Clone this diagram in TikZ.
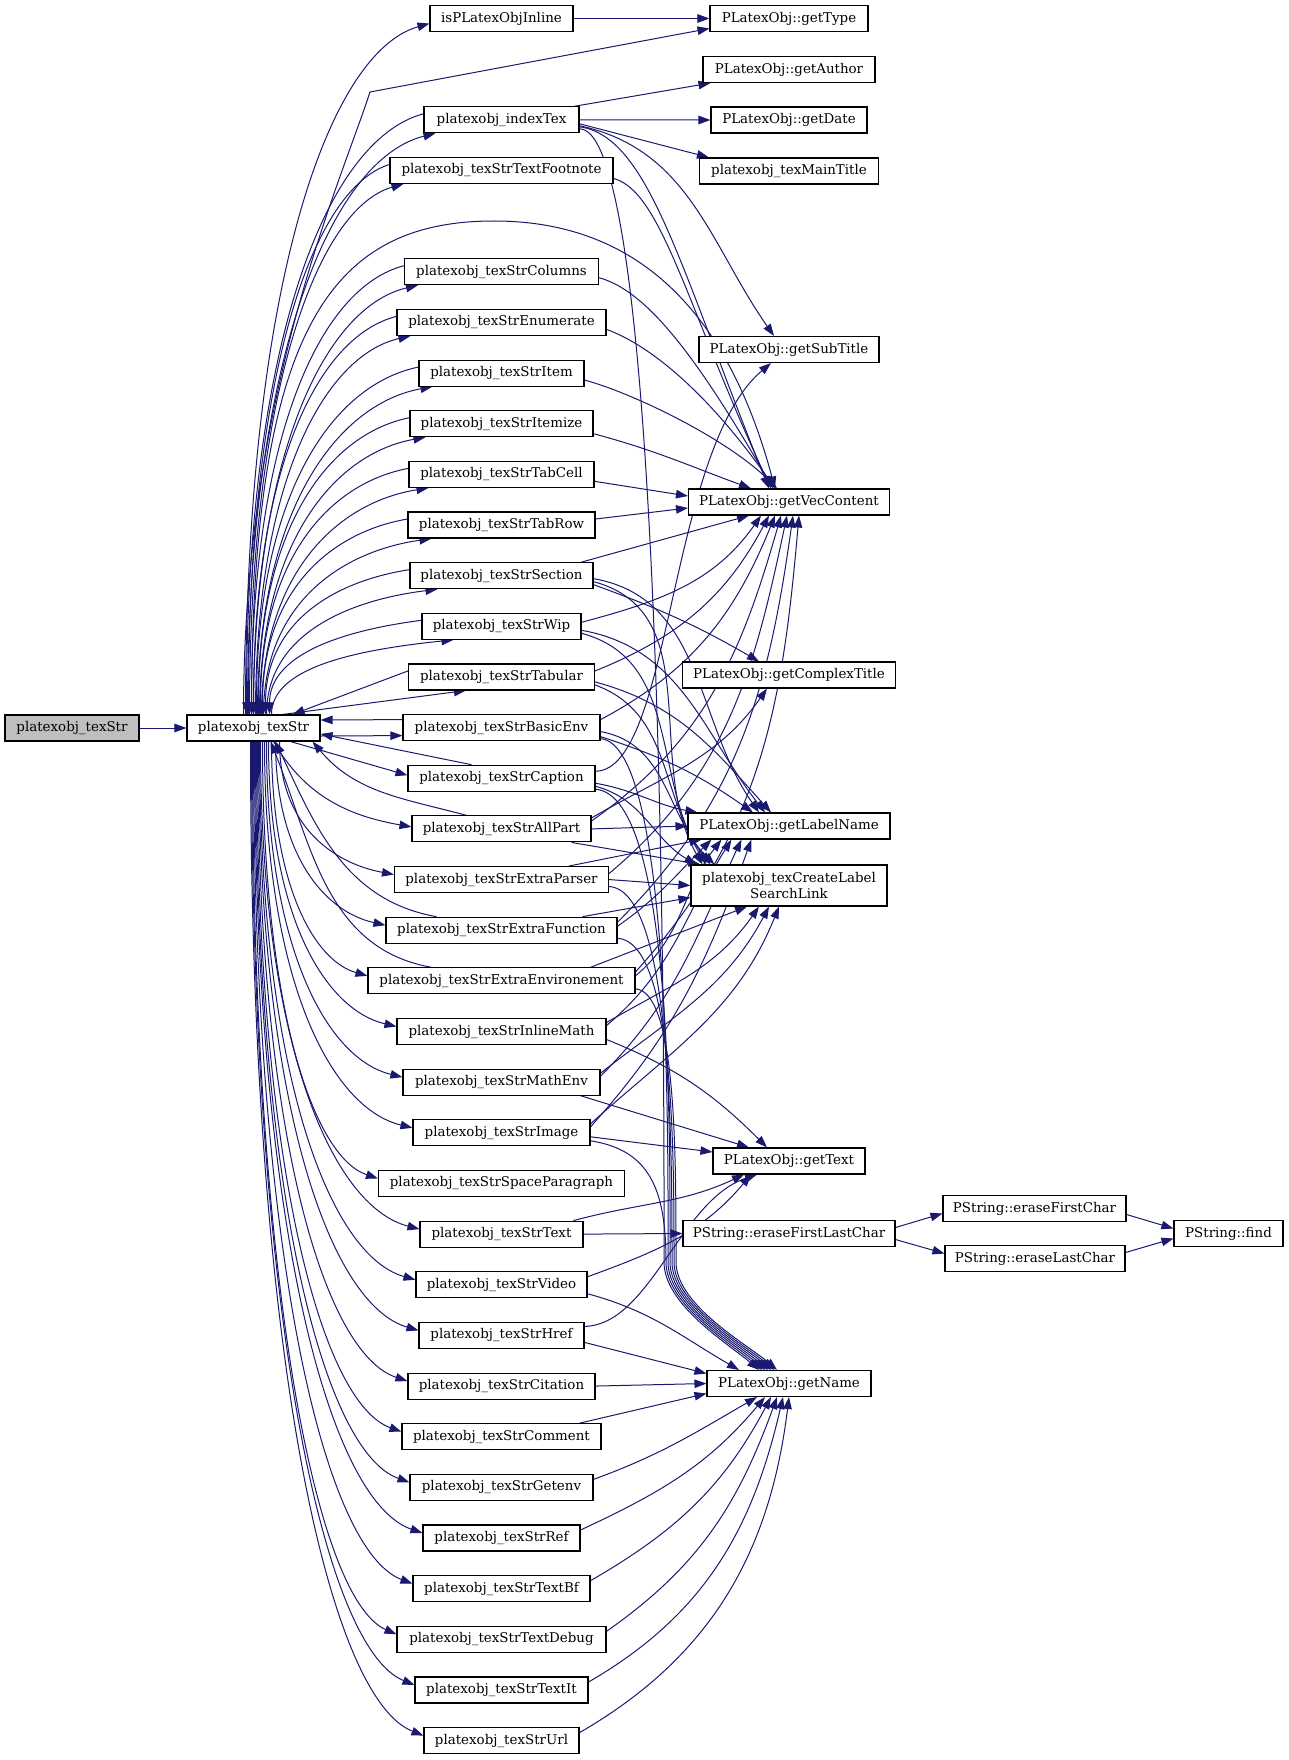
\documentclass[tikz,border=0pt]{standalone}
\usepackage{fontspec}
\setmainfont{DejaVu Serif}
\usetikzlibrary{arrows.meta,calc}
\pgfdeclarelayer{bg}
\pgfsetlayers{bg,main}
\definecolor{edgec}{HTML}{191970}
\definecolor{rootfill}{HTML}{BFBFBF}
% forward edge going up from texStr to a node
\newcommand\fup[2]{\draw[edge] let \p1=#1, \p2=#2, \n1={0.62*(\y2-\y1)}, \n2={0.55*(\x2-\x1)}, \n3={0.03*(\y2-\y1)+8}, \n4={180+atan2(\n3,\n2)}, \n5={veclen(\n2,\n3)} in #1 to[out=90, in=\n4, out distance=\n1, in distance=\n5] #2;}
% forward edge going down from texStr to a node
\newcommand\fdown[2]{\draw[edge] let \p1=#1, \p2=#2, \n1={0.62*(\y1-\y2)}, \n2={0.55*(\x2-\x1)}, \n3={0.03*(\y1-\y2)+8}, \n4={180-atan2(\n3,\n2)}, \n5={veclen(\n2,\n3)} in #1 to[out=-90, in=\n4, out distance=\n1, in distance=\n5] #2;}
% back edge from a node above down to texStr
\newcommand\bup[2]{\draw[edge] let \p1=#1, \p2=#2, \n1={0.62*(\y1-\y2)}, \n2={0.55*(\x1-\x2)}, \n3={0.03*(\y1-\y2)+8}, \n4={180+atan2(\n3,\n2)}, \n5={veclen(\n2,\n3)} in #1 to[out=\n4, in=90, out distance=\n5, in distance=\n1] #2;}
\begin{document}
\begin{tikzpicture}[x=1pt,y=1pt,
  box/.style={draw=black, line width=1.1pt, fill=white, minimum height=26pt, inner xsep=2pt, inner ysep=0pt, font=\fontsize{13.4}{15.4}\selectfont},
  edge/.style={draw=edgec, line width=1pt, -{Triangle[length=12pt,width=8.5pt]}}]
\useasboundingbox (0,0) rectangle (1288,-1760);
% left nodes
\node[box, fill=rootfill, minimum width=134pt] (root) at (72,-728) {platexobj\_texStr};
\node[box, minimum width=133pt] (ts) at (253.5,-728) {platexobj\_texStr};
% middle column
\foreach \nd/\yy/\ww/\lbl in {
 inl/18.5/143/isPLatexObjInline,
 idx/119.8/155/platexobj\_indexTex,
 fn/170.45/223/platexobj\_texStrTextFootnote,
 col/271.75/194/platexobj\_texStrColumns,
 enu/322.4/209/platexobj\_texStrEnumerate,
 itm/373.05/165/platexobj\_texStrItem,
 itz/423.7/183/platexobj\_texStrItemize,
 tc/474.35/185/platexobj\_texStrTabCell,
 tr/525.0/187/platexobj\_texStrTabRow,
 sec/575.65/183/platexobj\_texStrSection,
 wip/626.3/159/platexobj\_texStrWip,
 tab/676.95/186/platexobj\_texStrTabular,
 be/727.6/197/platexobj\_texStrBasicEnv,
 cap/778.25/187/platexobj\_texStrCaption,
 ap/828.9/179/platexobj\_texStrAllPart,
 xp/879.55/214/platexobj\_texStrExtraParser,
 xf/930.2/231/platexobj\_texStrExtraFunction,
 xe/980.85/267/platexobj\_texStrExtraEnvironement,
 im/1031.5/209/platexobj\_texStrInlineMath,
 me/1082.15/197/platexobj\_texStrMathEnv,
 img/1132.8/177/platexobj\_texStrImage,
 sp/1183.45/246/platexobj\_texStrSpaceParagraph,
 txt/1234.1/163/platexobj\_texStrText,
 vid/1284.75/171/platexobj\_texStrVideo,
 href/1335.4/165/platexobj\_texStrHref,
 cit/1386.05/187/platexobj\_texStrCitation,
 com/1436.7/199/platexobj\_texStrComment,
 gen/1487.35/183/platexobj\_texStrGetenv,
 ref/1538.0/157/platexobj\_texStrRef,
 tbf/1588.65/177/platexobj\_texStrTextBf,
 tdb/1639.3/209/platexobj\_texStrTextDebug,
 tit/1689.95/173/platexobj\_texStrTextIt,
 url/1740.6/155/platexobj\_texStrUrl}
 {\node[box, minimum width=\ww pt] (\nd) at (501.5,-\yy) {\lbl};}
% right column
\node[box, minimum width=158pt] (gT) at (789,-18.5) {PLatexObj::getType};
\node[box, minimum width=172pt] (gA) at (789,-69.5) {PLatexObj::getAuthor};
\node[box, minimum width=156pt] (gD) at (789,-120) {PLatexObj::getDate};
\node[box, minimum width=179pt] (tmt) at (789,-171) {platexobj\_texMainTitle};
\node[box, minimum width=180pt] (gST) at (789,-349.5) {PLatexObj::getSubTitle};
\node[box, minimum width=201pt] (vc) at (789,-502) {PLatexObj::getVecContent};
\node[box, minimum width=213pt] (gCT) at (789,-675) {PLatexObj::getComplexTitle};
\node[box, minimum width=202pt] (ln) at (789,-826) {PLatexObj::getLabelName};
\node[box, minimum width=196pt, minimum height=41pt, align=center] (cl) at (789,-885.5) {platexobj\_texCreateLabel\\SearchLink};
\node[box, minimum width=152pt] (gtx) at (789,-1161) {PLatexObj::getText};
\node[box, minimum width=212pt] (efl) at (789,-1233.5) {PString::eraseFirstLastChar};
\node[box, minimum width=164pt] (nm) at (789,-1383.5) {PLatexObj::getName};
\node[box, minimum width=183pt] (efc) at (1034.5,-1208.5) {PString::eraseFirstChar};
\node[box, minimum width=180pt] (elc) at (1035,-1258.5) {PString::eraseLastChar};
\node[box, minimum width=109pt] (fnd) at (1228.5,-1233.5) {PString::find};
\coordinate (gtk) at (370,-92);
\coordinate (vcpk) at (494,-221);

\begin{pgfonlayer}{bg}
\draw[edge] (root) -- (ts);
% texStr to upper nodes
\fup{([xshift=-8]ts.north)}{([yshift=-5]inl.west)}
\foreach \nd/\s/\e in {idx/-6/12, fn/-4/14, col/0/14, enu/2/14, itm/4/14, itz/6/16, tc/8/20, tr/10/24, sec/13/28, wip/18/32}
  {\fup{([xshift=\s]ts.north)}{([xshift=\e]\nd.south west)}}
\foreach \nd/\e in {idx/-7, fn/-5, col/-2, enu/0, itm/3, itz/5, tc/7, tr/9, sec/12, wip/16}
  {\bup{([yshift=6]\nd.west)}{([xshift=\e]ts.north)}}
\draw[edge] ([xshift=-38]ts.north east) -- ([xshift=58]tab.south west);
\draw[edge] ([yshift=6]tab.west) -- ([xshift=-28]ts.north east);
\draw[edge] ([xshift=-10]ts.north) to[out=90,in=-108,out distance=320pt,in distance=100pt] (gtk) -- ([yshift=-10]gT.west);
\draw[edge] ([xshift=-2]ts.north) to[out=90,in=180,out distance=385pt,in distance=164pt] (vcpk) to[out=0,in=105,out distance=130pt,in distance=200pt] ([xshift=-14]vc.north);
% texStr to lower nodes
\draw[edge] ([yshift=-8]ts.east) -- ([yshift=-8]be.west);
\draw[edge] ([yshift=8]be.west) -- ([yshift=8]ts.east);
\draw[edge] ([xshift=-30]ts.south east) -- ([yshift=3]cap.west);
\draw[edge] ([xshift=-30]cap.north) -- ([yshift=-6]ts.east);
\draw[edge] ([xshift=20]ts.south) to[out=-60,in=170] ([yshift=2]ap.west);
\draw[edge] ([xshift=-35]ap.north) to[out=165,in=-50] ([xshift=-8]ts.south east);
\draw[edge] ([xshift=-65]xf.north) to[out=170,in=-65] ([xshift=22]ts.south);
\draw[edge] ([xshift=-70]xe.north) to[out=170,in=-68] ([xshift=17]ts.south);
\foreach \nd/\s in {xp/26, xf/22, xe/18, im/15, me/13, img/11, sp/9, txt/7, vid/6, href/5, cit/4, com/3, gen/2, ref/1, tbf/0, tdb/-1, tit/-2, url/-3}
  {\fdown{([xshift=\s]ts.south)}{([yshift=5]\nd.west)}}
% right side
\draw[edge] (inl) -- (gT);
\draw[edge] ([xshift=-5]idx.north east) -- ([xshift=8]gA.south west);
\draw[edge] (idx.east) -- (gD.west);
\draw[edge] ([yshift=-4]idx.east) -- ([xshift=10]tmt.north west);
\draw[edge] ([yshift=-6]idx.east) to[out=-12,in=125] ([xshift=-15]gST.north);
\draw[edge] ([yshift=-7]idx.east) to[out=-8,in=112,out distance=70pt,in distance=240pt] ([xshift=-20]vc.north);
\draw[edge] ([yshift=-9]idx.east) .. controls (668,-129) and (664,-1150) .. (664,-1262) .. controls (664,-1305) and (730,-1345) .. ([xshift=-30]nm.north);
\draw[edge] ([yshift=-8]fn.east) to[out=-15,in=115,out distance=50pt,in distance=200pt] ([xshift=-18]vc.north);
\draw[edge] ([yshift=-6]col.east) to[out=-15,in=120,out distance=50pt,in distance=150pt] ([xshift=-16]vc.north);
\draw[edge] ([yshift=-7]enu.east) to[out=-20,in=125,out distance=50pt,in distance=110pt] ([xshift=-14]vc.north);
\draw[edge] ([yshift=-7]itm.east) to[out=-15,in=135,out distance=50pt,in distance=70pt] ([xshift=-12]vc.north);
\draw[edge] ([yshift=-10]itz.east) to[out=-15,in=160] ([xshift=-38]vc.north);
\draw[edge] ([yshift=-7]tc.east) -- ([yshift=6]vc.west);
\draw[edge] ([yshift=6]tr.east) -- ([yshift=-6]vc.west);
\draw[edge] ([xshift=-12]sec.north east) -- ([xshift=-40]vc.south);
\draw[edge] ([yshift=-9]sec.east) to[out=-20,in=150] ([xshift=-30]gCT.north);
\draw[edge] ([yshift=-3]sec.east) to[out=-10,in=125] ([xshift=-30]ln.north);
\draw[edge] ([yshift=-6]sec.east) to[out=-15,in=120] ([xshift=12]cl.north west);
\draw[edge] ([yshift=4]wip.east) to[out=15,in=-125] ([xshift=-28]vc.south);
\draw[edge] ([yshift=-4]wip.east) to[out=-10,in=128] ([xshift=-24]ln.north);
\draw[edge] ([yshift=-7]wip.east) to[out=-15,in=122] ([xshift=16]cl.north west);
\draw[edge] ([yshift=6]tab.east) to[out=22,in=-118] ([xshift=-20]vc.south);
\draw[edge] ([yshift=-5]tab.east) to[out=-15,in=132] ([xshift=-18]ln.north);
\draw[edge] ([yshift=-8]tab.east) to[out=-20,in=128] ([xshift=20]cl.north west);
\draw[edge] ([yshift=8]be.east) to[out=28,in=-112] ([xshift=-14]vc.south);
\draw[edge] ([yshift=-9]be.east) to[out=-18,in=145] ([xshift=-36]ln.north);
\draw[edge] ([yshift=-4]be.east) to[out=-10,in=135] ([xshift=24]cl.north west);
\draw[edge] ([yshift=-11]be.east) .. controls (672,-745) and (668,-1150) .. (668,-1262) .. controls (668,-1305) and (736,-1345) .. ([xshift=-24]nm.north);
\draw[edge] ([yshift=7]cap.east) .. controls (672,-770) and (668,-450) .. ([xshift=-18]gST.south);
\draw[edge] ([yshift=-5]cap.east) to[out=-10,in=170] ([xshift=10]ln.north west);
\draw[edge] ([yshift=-8]cap.east) to[out=-15,in=150] ([xshift=6]cl.north west);
\draw[edge] ([yshift=-11]cap.east) .. controls (674,-795) and (670,-1150) .. (670,-1262) .. controls (670,-1305) and (739,-1345) .. ([xshift=-21]nm.north);
\draw[edge] ([yshift=8]ap.east) to[out=35,in=-106] ([xshift=-8]vc.south);
\draw[edge] ([yshift=11]ap.east) to[out=30,in=-125] ([xshift=-22]gCT.south);
\draw[edge] (ap.east) -- (ln.west);
\draw[edge] ([xshift=-20]ap.south east) -- ([xshift=10]cl.north west);
\draw[edge] ([yshift=6]xp.east) to[out=40,in=-102] ([xshift=-2]vc.south);
\draw[edge] ([xshift=-40]xp.north east) -- ([xshift=14]ln.south west);
\draw[edge] (xp.east) -- (cl.west);
\draw[edge] ([yshift=-7]xp.east) .. controls (672,-890) and (672,-1150) .. (672,-1262) .. controls (672,-1305) and (742,-1345) .. ([xshift=-18]nm.north);
\draw[edge] ([yshift=8]xf.east) to[out=45,in=-98] ([xshift=4]vc.south);
\draw[edge] ([yshift=4]xf.east) to[out=35,in=-135] ([xshift=24]ln.south west);
\draw[edge] ([xshift=-35]xf.north east) -- ([yshift=-12]cl.west);
\draw[edge] ([yshift=-8]xf.east) .. controls (674,-942) and (674,-1150) .. (674,-1262) .. controls (674,-1305) and (745,-1345) .. ([xshift=-15]nm.north);
\draw[edge] ([yshift=9]xe.east) to[out=48,in=-95] ([xshift=10]vc.south);
\draw[edge] ([yshift=5]xe.east) to[out=40,in=-128] ([xshift=34]ln.south west);
\draw[edge] ([xshift=-45]xe.north east) -- ([xshift=-42]cl.south);
\draw[edge] ([yshift=-8]xe.east) .. controls (676,-992) and (676,-1150) .. (676,-1262) .. controls (676,-1305) and (748,-1345) .. ([xshift=-12]nm.north);
\draw[edge] ([yshift=6]im.east) to[out=40,in=-122] ([xshift=44]ln.south west);
\draw[edge] ([yshift=9]im.east) to[out=30,in=-125] ([xshift=-30]cl.south);
\draw[edge] ([yshift=-8]im.east) to[out=-22,in=135] ([xshift=-22]gtx.north);
\draw[edge] ([yshift=6]me.east) to[out=45,in=-115] ([xshift=54]ln.south west);
\draw[edge] ([yshift=9]me.east) to[out=38,in=-118] ([xshift=-20]cl.south);
\draw[edge] ([xshift=-20]me.south east) -- ([xshift=-40]gtx.north);
\draw[edge] ([yshift=6]img.east) to[out=48,in=-110] ([xshift=64]ln.south west);
\draw[edge] ([yshift=9]img.east) to[out=42,in=-112] ([xshift=-10]cl.south);
\draw[edge] ([yshift=-4]img.east) -- ([yshift=9]gtx.west);
\draw[edge] ([yshift=-8]img.east) .. controls (650,-1150) and (666,-1190) .. (666,-1262) .. controls (666,-1305) and (733,-1345) .. ([xshift=-27]nm.north);
\draw[edge] ([xshift=-10]txt.north east) to[out=15,in=-155] ([xshift=-45]gtx.south);
\draw[edge] (txt.east) -- (efl.west);
\draw[edge] ([yshift=8]vid.east) to[out=20,in=-130] ([xshift=-38]gtx.south);
\draw[edge] ([yshift=-9]vid.east) to[out=-15,in=150] ([xshift=-50]nm.north);
\draw[edge] ([yshift=9]href.east) .. controls (650,-1325) and (680,-1200) .. ([xshift=-32]gtx.south);
\draw[edge] ([yshift=-7]href.east) -- ([yshift=10]nm.west);
\draw[edge] (cit.east) -- (nm.west);
\draw[edge] ([xshift=-22]com.north east) -- ([yshift=-10]nm.west);
\draw[edge] ([yshift=8]gen.east) to[out=20,in=-150] ([xshift=-32]nm.south);
\draw[edge] ([yshift=8]ref.east) to[out=25,in=-130] ([xshift=-24]nm.south);
\draw[edge] ([yshift=8]tbf.east) to[out=30,in=-118] ([xshift=-18]nm.south);
\draw[edge] ([yshift=8]tdb.east) to[out=35,in=-110] ([xshift=-12]nm.south);
\draw[edge] ([yshift=8]tit.east) to[out=30,in=-103] ([xshift=-6]nm.south);
\draw[edge] ([yshift=8]url.east) to[out=30,in=-97] (nm.south);
\draw[edge] ([yshift=6]efl.east) -- ([yshift=-5]efc.west);
\draw[edge] ([yshift=-6]efl.east) -- ([yshift=5]elc.west);
\draw[edge] ([yshift=-6]efc.east) -- ([yshift=5]fnd.west);
\draw[edge] ([yshift=6]elc.east) -- ([yshift=-5]fnd.west);
\end{pgfonlayer}
\end{tikzpicture}
\end{document}
